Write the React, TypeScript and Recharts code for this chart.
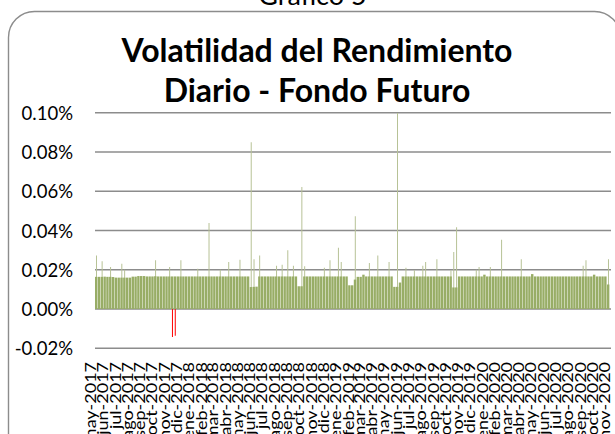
import { Bar, CartesianGrid, Cell, ComposedChart, XAxis, YAxis } from 'recharts'

// etiquetas del eje de fechas
const mesesEje = [
  'may-2017', 'jun-2017', 'jul-2017', 'ago-2017', 'sep-2017', 'oct-2017', 'nov-2017', 'dic-2017',
  'ene-2018', 'feb-2018', 'mar-2018', 'abr-2018', 'may-2018', 'jun-2018', 'jul-2018', 'ago-2018',
  'sep-2018', 'oct-2018', 'nov-2018', 'dic-2018', 'ene-2019', 'feb-2019', 'mar-2019', 'abr-2019',
  'may-2019', 'jun-2019', 'jul-2019', 'ago-2019', 'sep-2019', 'oct-2019', 'nov-2019', 'dic-2019',
  'ene-2020', 'feb-2020', 'mar-2020', 'abr-2020', 'may-2020', 'jun-2020', 'jul-2020', 'ago-2020',
  'sep-2020', 'oct-2020', 'nov-2020',
]
const abrevMes = ['ene', 'feb', 'mar', 'abr', 'may', 'jun', 'jul', 'ago', 'sep', 'oct', 'nov', 'dic']

// volatilidad diaria (%) leida por semana, semana 0 = 1-may-2017
const volatilidadSemanal = [
  0.0164, 0.0164, 0.0164, 0.0165, 0.0164, 0.0164, 0.0163, 0.016, 0.016, 0.016,
  0.016, 0.016, 0.016, 0.0165, 0.0165, 0.0168, 0.0168, 0.0168, 0.0166, 0.0166,
  0.0166, 0.0167, 0.0166, 0.0166, 0.0166, 0.0166, 0.0166, 0.0166, 0.0166, 0.0166,
  0.0166, 0.0166, 0.0166, 0.0166, 0.0166, 0.0166, 0.0166, 0.0166, 0.0166, 0.0166,
  0.0166, 0.0166, 0.0166, 0.0166, 0.0166, 0.0166, 0.0166, 0.0166, 0.0166, 0.0166,
  0.0166, 0.0166, 0.0166, 0.0166, 0.0166, 0.0112, 0.0113, 0.0114, 0.0166, 0.0166,
  0.0166, 0.0166, 0.0166, 0.0166, 0.0166, 0.0166, 0.0166, 0.0166, 0.0166, 0.0166,
  0.0166, 0.0166, 0.0116, 0.0116, 0.0166, 0.0166, 0.0166, 0.0166, 0.0166, 0.0166,
  0.0166, 0.0166, 0.0166, 0.0166, 0.0166, 0.0166, 0.0166, 0.0166, 0.0166, 0.0166,
  0.0121, 0.0121, 0.015, 0.0164, 0.0164, 0.0175, 0.0166, 0.0166, 0.0166, 0.0166,
  0.0166, 0.0166, 0.0166, 0.0166, 0.0166, 0.0166, 0.0113, 0.0113, 0.0135, 0.0166,
  0.0166, 0.0166, 0.0166, 0.0166, 0.0166, 0.0166, 0.0166, 0.0166, 0.0166, 0.0166,
  0.0166, 0.0166, 0.0166, 0.0166, 0.0166, 0.0166, 0.0166, 0.011, 0.011, 0.0166,
  0.0166, 0.0166, 0.0166, 0.0166, 0.0166, 0.0166, 0.0166, 0.0166, 0.0175, 0.0166,
  0.0166, 0.0166, 0.0166, 0.0166, 0.0166, 0.0166, 0.0166, 0.0166, 0.0166, 0.0166,
  0.0166, 0.0166, 0.0166, 0.0166, 0.0166, 0.0178, 0.0166, 0.0166, 0.0166, 0.0166,
  0.0166, 0.0166, 0.0166, 0.0166, 0.0166, 0.0166, 0.0166, 0.0166, 0.0166, 0.0166,
  0.0166, 0.0166, 0.0166, 0.0166, 0.0166, 0.0166, 0.0166, 0.0175, 0.0166, 0.0166,
  0.0166, 0.0166, 0.0125,
]

// dias puntuales (dias desde 1-may-2017) y su volatilidad (%)
const picosDia = [
  6, 16, 37, 63, 75, 153, 182, 193, 198, 210, 252, 280, 310, 335, 362, 389, 394, 406,
  449, 466, 476, 496, 511, 521, 573, 584, 603, 610, 644, 685, 706, 732, 750, 772, 791,
  818, 822, 849, 888, 892, 899, 946, 955, 984, 1008, 1061, 1216, 1220, 1275,
]
const picosValor = [
  0.0273, 0.0244, 0.0214, 0.0231, 0.02, 0.0248, 0.0214, -0.0143, -0.0136, 0.0248, 0.0205, 0.0438, 0.02, 0.024, 0.0251, 0.085, 0.0253, 0.0273,
  0.022, 0.0225, 0.0299, 0.022, 0.0622, 0.0218, 0.021, 0.0248, 0.0312, 0.024, 0.0472, 0.0234, 0.0273, 0.024, 0.0998, 0.021, 0.0197,
  0.022, 0.024, 0.0253, 0.0197, 0.029, 0.0417, 0.02, 0.0214, 0.0214, 0.0353, 0.0253, 0.022, 0.0248, 0.0253,
]

const ticksY = [-0.02, 0, 0.02, 0.04, 0.06, 0.08, 0.1]

const inicio = Date.UTC(2017, 4, 1)
const diasMes = mesesEje.map((m) => {
  const [mes, anio] = m.split('-')
  return (Date.UTC(Number(anio), abrevMes.indexOf(mes), 1) - inicio) / 86400000
})
const etiquetaDia = new Map(diasMes.map((d, i) => [d, mesesEje[i]]))

const filas = volatilidadSemanal.map((v, i) => ({ d: i * 7 + 3.5, base: v, pico: null as number | null }))
picosDia.forEach((dia, k) => {
  const fila = filas[Math.floor(dia / 7)]
  if (fila.pico == null || Math.abs(picosValor[k]) > Math.abs(fila.pico)) fila.pico = picosValor[k]
})

function MesTick({ x, payload }: any) {
  return (
    <text transform={`translate(${x + 1}, 362) rotate(-90) scale(1.2, 1)`} textAnchor="end" fontSize={15} fill="#000">
      {etiquetaDia.get(payload.value)}
    </text>
  )
}

function PctTick({ y, payload }: any) {
  return (
    <text x={73} y={y + 7} textAnchor="end" fontSize={18.5} fill="#000">
      {`${Number(payload.value).toFixed(2)}%`}
    </text>
  )
}

export default function App() {
  return (
    <div style={{ position: 'absolute', left: 0, top: 0, width: 615, height: 434, overflow: 'hidden', background: '#fff', fontFamily: 'Lato, sans-serif' }}>
      <svg width={615} height={434} style={{ position: 'absolute', left: 0, top: 0 }}>
        <text x={312.5} y={5} textAnchor="middle" fontSize={27} fill="#000">Gráfico 5</text>
        <rect x={8.5} y={11.5} width={612} height={450} rx={26} fill="none" stroke="#8c8c8c" strokeWidth={1.4} />
        <text x={317} y={62} textAnchor="middle" fontSize={32} fontWeight={700} fill="#000">Volatilidad del Rendimiento</text>
        <text x={317} y={101.5} textAnchor="middle" fontSize={32} fontWeight={700} fill="#000">Diario - Fondo Futuro</text>
      </svg>
      <div style={{ position: 'absolute', left: 0, top: 0 }}>
        <ComposedChart width={615} height={434} data={filas} margin={{ top: 112.7, right: 4, bottom: 5.7, left: 15 }}>
          <CartesianGrid vertical={false} stroke="#8c8c8c" strokeWidth={1.5} />
          <XAxis
            type="number"
            dataKey="d"
            domain={[0, 1284]}
            ticks={diasMes}
            interval={0}
            height={80}
            axisLine={false}
            tickLine={false}
            tick={<MesTick />}
          />
          <XAxis xAxisId="picos" type="number" dataKey="d" domain={[0, 1284]} hide />
          <YAxis domain={[-0.02, 0.1]} ticks={ticksY} interval={0} width={80} axisLine={false} tickLine={false} tick={<PctTick />} />
          <Bar xAxisId="picos" dataKey="pico" barSize={1} isAnimationActive={false}>
            {filas.map((f, i) => (
              <Cell key={i} fill={f.pico != null && f.pico < 0 ? '#ff0000' : '#b7c296'} />
            ))}
          </Bar>
          <Bar dataKey="base" barSize={2.4} fill="#98ad66" isAnimationActive={false} />
        </ComposedChart>
      </div>
    </div>
  )
}
